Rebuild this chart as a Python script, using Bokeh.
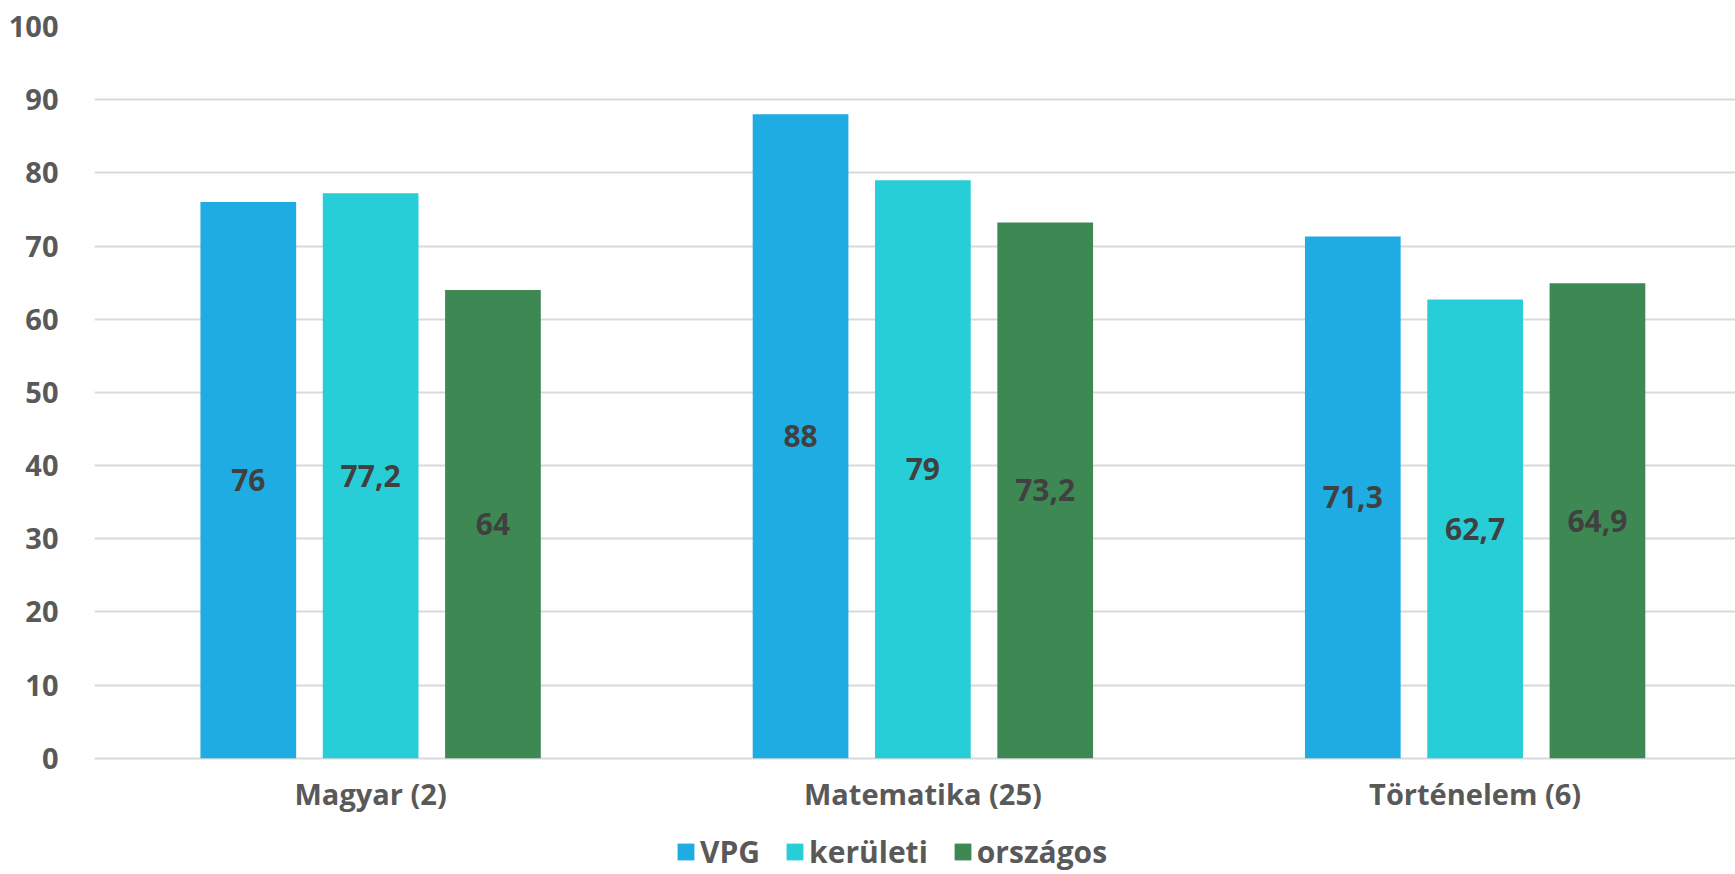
from bokeh.plotting import figure
from bokeh.models import (ColumnDataSource, Range1d, FixedTicker,
                          LabelSet, Legend, LegendItem)
from bokeh.transform import dodge
from bokeh.core.properties import value
from bokeh.embed import file_html
from bokeh.resources import INLINE

categories = ["Magyar (2)", "Matematika (25)", "Történelem (6)"]
series = ["VPG", "kerületi", "országos"]
vpg = [76, 88, 71.3]
keruleti = [77.2, 79, 62.7]
orszagos = [64, 73.2, 64.9]
y_ticks = [0, 10, 20, 30, 40, 50, 60, 70, 80, 90, 100]

colors = ["#1FACE3", "#28CED7", "#3E8853"]
FONT = "Open Sans"

def fmt(v):
    return ("%g" % v).replace(".", ",")

x_pos = [i + 0.5 for i in range(len(categories))]
data = dict(x=x_pos)
for name, vals in zip(series, [vpg, keruleti, orszagos]):
    data[name] = vals
    data[name + "_mid"] = [v / 2 for v in vals]
    data[name + "_txt"] = [fmt(v) for v in vals]
src = ColumnDataSource(data)

W, H = 1735, 874
frame_left = 94
frame_top = 26
zero_px = 757.7
px_per_unit = (zero_px - frame_top) / 100.0
y_start = -(H - zero_px) / px_per_unit
x_end = (W - frame_left) / 552.25

p = figure(width=W, height=H, output_backend="svg", toolbar_location=None,
           x_range=Range1d(0, x_end), y_range=Range1d(y_start, 100),
           min_border_left=frame_left, min_border_right=0,
           min_border_top=frame_top, min_border_bottom=0)
p.outline_line_color = None
p.background_fill_color = "white"
p.border_fill_color = "white"

offsets = [-0.2215, 0.0, 0.2215]
bar_w = 0.1733
items = []
for name, off, col in zip(series, offsets, colors):
    r = p.vbar(x=dodge("x", off, range=p.x_range), top=name, width=bar_w, bottom=0,
               source=src, fill_color=col, line_color=None)
    items.append(LegendItem(label=name, renderers=[r]))
    lbl = LabelSet(x=dodge("x", off, range=p.x_range), y=name + "_mid", text=name + "_txt",
                   source=src, text_align="center", text_baseline="middle",
                   text_font=value(FONT), text_font_style="bold", text_font_size="30px",
                   text_color="#404040")
    p.add_layout(lbl)

# axes
p.xaxis.fixed_location = 0
p.xaxis.ticker = FixedTicker(ticks=x_pos)
p.xaxis.major_label_overrides = {x: c for x, c in zip(x_pos, categories)}
p.yaxis.ticker = FixedTicker(ticks=y_ticks)
for ax in (p.xaxis, p.yaxis):
    ax.axis_line_color = None
    ax.major_tick_line_color = None
    ax.minor_tick_line_color = None
    ax.major_label_text_font = FONT
    ax.major_label_text_font_style = "bold"
    ax.major_label_text_color = "#595959"
p.xaxis.major_label_text_font_size = "29px"
p.yaxis.major_label_text_font_size = "29px"
p.xaxis.major_label_standoff = 10
p.yaxis.major_label_standoff = 30

p.xgrid.grid_line_color = None
p.ygrid.ticker = FixedTicker(ticks=y_ticks)
p.ygrid.grid_line_color = "#D9D9D9"
p.ygrid.grid_line_width = 2

legend = Legend(items=items, orientation="horizontal", location=(581, 2),
                glyph_width=21, glyph_height=21, label_standoff=4, spacing=24,
                padding=0, margin=0, border_line_color=None, background_fill_alpha=0,
                label_text_font=FONT, label_text_font_style="bold",
                label_text_font_size="30px", label_text_color="#595959",
                label_height=21)
p.add_layout(legend, "center")

open("out.html", "w").write(file_html(p, INLINE))
